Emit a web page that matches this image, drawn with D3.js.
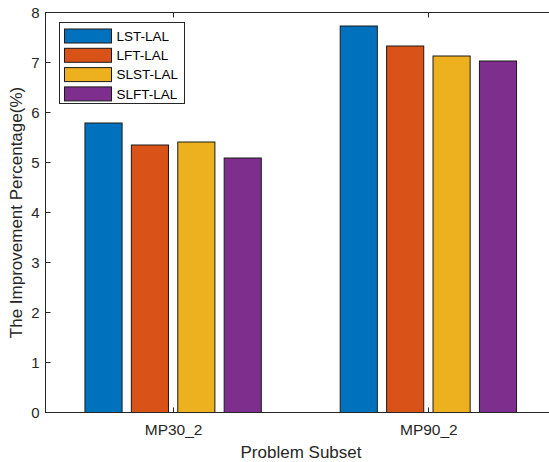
<!DOCTYPE html>
<html>
<head>
<meta charset="utf-8">
<script src="https://cdn.jsdelivr.net/npm/d3@7"></script>
<style>
  body { margin: 0; background: #fff; }
  svg { display: block; font-family: "Liberation Sans", Arial, sans-serif; }
</style>
</head>
<body>
<script>
// chart data
const categories = ["MP30_2", "MP90_2"];
const seriesNames = ["LST-LAL", "LFT-LAL", "SLST-LAL", "SLFT-LAL"];
const lstLal = [5.79, 7.73];
const lftLal = [5.35, 7.33];
const slstLal = [5.41, 7.13];
const slftLal = [5.09, 7.03];
const yTicks = [0, 1, 2, 3, 4, 5, 6, 7, 8];
const colors = ["#0072BD", "#D95319", "#EDB120", "#7E2F8E"];

const series = [lstLal, lftLal, slstLal, slftLal];

const width = 549, height = 462;
const plotLeft = 45.5, plotTop = 12.5, plotBottom = 412.5, plotRight = 556;
const axisColor = "#262626";

const svg = d3.select("body").append("svg")
  .attr("width", width)
  .attr("height", height);

// x is a category index (1, 2) like matlab bar()
const x = d3.scaleLinear().domain([0.5, 2.5]).range([plotLeft, plotRight]);
const y = d3.scaleLinear().domain([0, 8]).range([plotBottom, plotTop]);

const nSeries = series.length;
const groupWidth = Math.min(0.8, nSeries / (nSeries + 1.5));
const slot = groupWidth / nSeries;
const barW = slot * 0.8;

// bars
series.forEach((vals, s) => {
  svg.append("g").selectAll("rect")
    .data(vals)
    .enter().append("rect")
    .attr("x", (d, i) => x(i + 1 - groupWidth / 2 + slot * s + (slot - barW) / 2))
    .attr("width", x(barW) - x(0))
    .attr("y", d => y(d))
    .attr("height", d => y(0) - y(d))
    .attr("fill", colors[s])
    .attr("stroke", "#1a1a1a")
    .attr("stroke-width", 1);
});

// box and ticks
const axes = svg.append("g").attr("stroke", axisColor).attr("fill", "none");
axes.append("rect")
  .attr("x", plotLeft).attr("y", plotTop)
  .attr("width", plotRight - plotLeft).attr("height", plotBottom - plotTop)
  .attr("stroke-width", 1);

const tickLen = 5;
yTicks.forEach(t => {
  axes.append("line")
    .attr("x1", plotLeft).attr("x2", plotLeft + tickLen)
    .attr("y1", y(t)).attr("y2", y(t));
  axes.append("line")
    .attr("x1", plotRight).attr("x2", plotRight - tickLen)
    .attr("y1", y(t)).attr("y2", y(t));
});
categories.forEach((c, i) => {
  const cx = Math.round(x(i + 1)) + 0.5;
  axes.append("line").attr("x1", cx).attr("x2", cx)
    .attr("y1", plotBottom).attr("y2", plotBottom - tickLen);
  axes.append("line").attr("x1", cx).attr("x2", cx)
    .attr("y1", plotTop).attr("y2", plotTop + tickLen);
});

// tick labels
svg.append("g").selectAll("text")
  .data(yTicks)
  .enter().append("text")
  .attr("x", plotLeft - 6)
  .attr("y", d => y(d))
  .attr("dy", "0.35em")
  .attr("text-anchor", "end")
  .attr("font-size", 15)
  .attr("fill", axisColor)
  .text(d => d);

svg.append("g").selectAll("text")
  .data(categories)
  .enter().append("text")
  .attr("x", (d, i) => x(i + 1) + 0.5)
  .attr("y", plotBottom + 22)
  .attr("text-anchor", "middle")
  .attr("font-size", 15.5)
  .attr("fill", axisColor)
  .text(d => d);

// axis titles
svg.append("text")
  .attr("x", 301)
  .attr("y", 458)
  .attr("text-anchor", "middle")
  .attr("font-size", 17)
  .attr("fill", axisColor)
  .text("Problem Subset");

svg.append("text")
  .attr("transform", `translate(22,${(plotTop + plotBottom) / 2}) rotate(-90)`)
  .attr("text-anchor", "middle")
  .attr("font-size", 17)
  .attr("fill", axisColor)
  .text("The Improvement Percentage(%)");

// legend
const legend = svg.append("g").attr("transform", "translate(59.5,22.5)");
legend.append("rect")
  .attr("width", 125).attr("height", 81)
  .attr("fill", "#fff")
  .attr("stroke", axisColor);
seriesNames.forEach((name, i) => {
  const row = legend.append("g").attr("transform", `translate(5,${6.5 + i * 19.3})`);
  row.append("rect")
    .attr("width", 47).attr("height", 14)
    .attr("fill", colors[i])
    .attr("stroke", "#1a1a1a");
  row.append("text")
    .attr("x", 52).attr("y", 7)
    .attr("dy", "0.35em")
    .attr("font-size", 13.5)
    .attr("fill", "#000")
    .text(name);
});
</script>
</body>
</html>
